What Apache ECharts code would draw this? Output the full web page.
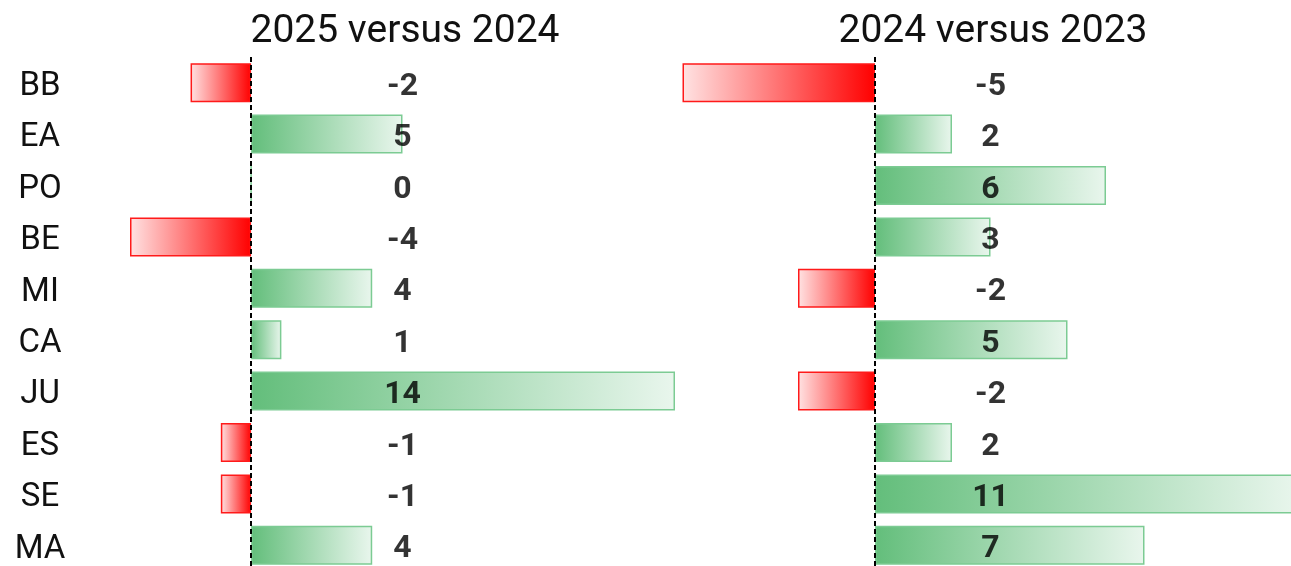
<!DOCTYPE html>
<html>
<head>
<meta charset="utf-8">
<script src="https://cdn.jsdelivr.net/npm/echarts@6/dist/echarts.min.js"></script>
<style>
  html, body { margin: 0; padding: 0; background: #fff; }
  #chart { width: 1291px; height: 566px; }
</style>
</head>
<body>
<div id="chart"></div>
<script>
// data
var categories = ['BB', 'EA', 'PO', 'BE', 'MI', 'CA', 'JU', 'ES', 'SE', 'MA'];
var change2025 = [-2, 5, 0, -4, 4, 1, 14, -1, -1, 4];
var change2024 = [-5, 2, 6, 3, -2, 5, -2, 2, 11, 7];
var panelTitles = ['2025 versus 2024', '2024 versus 2023'];

var FONT = 'Roboto';

function barItem(v) {
  if (v >= 0) {
    return {
      value: v,
      itemStyle: {
        color: new echarts.graphic.LinearGradient(0, 0, 1, 0, [
          {offset: 0, color: '#63BE7B'},
          {offset: 1, color: '#E9F6ED'}
        ]),
        borderColor: '#7CCB93',
        borderWidth: 1.5
      }
    };
  }
  return {
    value: v,
    itemStyle: {
      color: new echarts.graphic.LinearGradient(0, 0, 1, 0, [
        {offset: 0, color: '#FFE3E3'},
        {offset: 1, color: '#FF0000'}
      ]),
      borderColor: '#FF1A1A',
      borderWidth: 1.5
    }
  };
}

// value labels sit in a fixed column, not at the bar ends
function labelItems(values, at) {
  return values.map(function (v, i) {
    return {value: [at, i], shown: v};
  });
}

var zeroLine = {
  silent: true,
  symbol: ['none', 'none'],
  label: {show: false},
  lineStyle: {color: '#000', type: [5, 3], width: 2},
  data: [{xAxis: 0}]
};

var labelStyle = {
  show: true,
  position: 'inside',
  offset: [0, 4],
  formatter: function (p) { return p.data.shown; },
  color: '#000',
  fontFamily: FONT,
  fontWeight: 'bold',
  fontSize: 32
};

var chart = echarts.init(document.getElementById('chart'));
var option = {
  animation: false,
  title: [
    {text: panelTitles[0], left: 400, top: 8, textAlign: 'center',
      textStyle: {fontFamily: FONT, fontSize: 39, fontWeight: 'normal', color: '#111'}},
    {text: panelTitles[1], left: 988, top: 8, textAlign: 'center',
      textStyle: {fontFamily: FONT, fontSize: 39, fontWeight: 'normal', color: '#111'}}
  ],
  // grids run past the canvas edge, so no fitting into bounds
  grid: [
    {left: 130, width: 545, top: 57, height: 514, outerBoundsMode: 'none'},
    {left: 682.5, width: 616, top: 57, height: 514, outerBoundsMode: 'none'}
  ],
  xAxis: [
    {gridIndex: 0, type: 'value', min: -4, max: 14, show: false},
    {gridIndex: 1, type: 'value', min: -5, max: 11, show: false}
  ],
  yAxis: [
    {
      gridIndex: 0, type: 'category', data: categories, inverse: true,
      axisLine: {show: false}, axisTick: {show: false}, splitLine: {show: false},
      axisLabel: {
        margin: 90, align: 'center',
        formatter: function (v) { return '{c|' + v + '}'; },
        rich: {c: {padding: [8, 0, 0, 0], fontFamily: FONT, fontSize: 33, color: '#111'}}
      }
    },
    {
      gridIndex: 1, type: 'category', data: categories, inverse: true,
      axisLine: {show: false}, axisTick: {show: false}, axisLabel: {show: false}, splitLine: {show: false}
    }
  ],
  series: [
    {
      type: 'bar', xAxisIndex: 0, yAxisIndex: 0, barWidth: 39,
      data: change2025.map(barItem), markLine: zeroLine
    },
    {
      type: 'bar', xAxisIndex: 1, yAxisIndex: 1, barWidth: 39,
      data: change2024.map(barItem), markLine: zeroLine
    },
    {
      type: 'scatter', xAxisIndex: 0, yAxisIndex: 0, symbolSize: 1,
      itemStyle: {color: 'transparent'}, z: 5,
      label: labelStyle, data: labelItems(change2025, 5)
    },
    {
      type: 'scatter', xAxisIndex: 1, yAxisIndex: 1, symbolSize: 1,
      itemStyle: {color: 'transparent'}, z: 5,
      label: labelStyle, data: labelItems(change2024, 3)
    }
  ]
};
option && chart.setOption(option);
</script>
</body>
</html>
